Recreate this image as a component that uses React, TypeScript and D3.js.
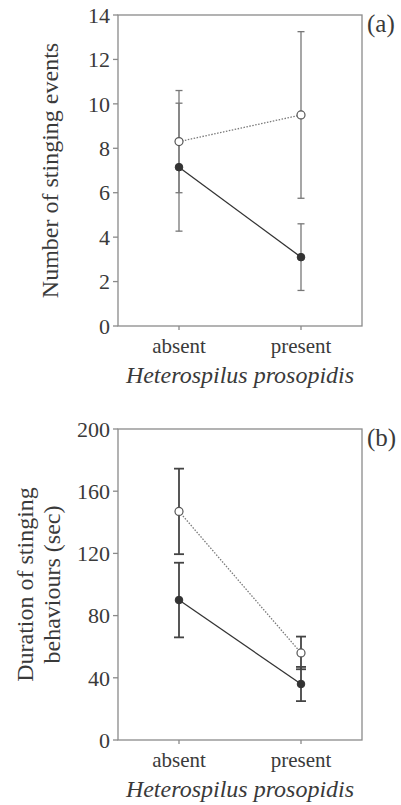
import { scaleLinear, scalePoint, line } from "d3";

// parasitoid treatment
const conditions = ["absent", "present"];

// (a) number of stinging events
const eventsOpen = [8.3, 9.5];
const eventsOpenErr = [2.3, 3.75];
const eventsFilled = [7.15, 3.1];
const eventsFilledErr = [2.88, 1.5];
const eventsTicks = [0, 2, 4, 6, 8, 10, 12, 14];

// (b) duration of stinging behaviours (sec)
const durationOpen = [147, 56];
const durationOpenErr = [27.5, 10.5];
const durationFilled = [90, 36];
const durationFilledErr = [24, 11];
const durationTicks = [0, 40, 80, 120, 160, 200];

const width = 401;
const height = 805;
const font = "'Liberation Serif', 'Times New Roman', serif";
const textColor = "#3a3a3a";

const left = 118;
const right = 362;

type PanelProps = {
  top: number;
  bottom: number;
  maxY: number;
  ticks: number[];
  open: number[];
  openErr: number[];
  filled: number[];
  filledErr: number[];
  tag: string;
  title: string[];
  barColor: string;
  barWidth: number;
  cap: number;
};

const Panel = (p: PanelProps) => {
  const x = scalePoint<string>().domain(conditions).range([left, right]).padding(0.5);
  const y = scaleLinear().domain([0, p.maxY]).range([p.bottom, p.top]);
  const path = line<number>()
    .x((_, i) => x(conditions[i]) ?? 0)
    .y((d) => y(d));

  const bars = (vals: number[], errs: number[]) =>
    vals.map((v, i) => {
      const cx = x(conditions[i]) ?? 0;
      const lo = y(v - errs[i]);
      const hi = y(v + errs[i]);
      return (
        <g key={i} stroke={p.barColor} strokeWidth={p.barWidth}>
          <line x1={cx} x2={cx} y1={lo} y2={hi} />
          <line x1={cx - p.cap} x2={cx + p.cap} y1={lo} y2={lo} />
          <line x1={cx - p.cap} x2={cx + p.cap} y1={hi} y2={hi} />
        </g>
      );
    });

  const midY = (p.top + p.bottom) / 2;

  return (
    <g fontFamily={font} fill={textColor}>
      {/* frame */}
      <rect
        x={left}
        y={p.top}
        width={right - left}
        height={p.bottom - p.top}
        fill="none"
        stroke="#8a8a8a"
        strokeWidth={1.3}
      />
      {p.ticks.map((t) => (
        <g key={t}>
          <line x1={left - 5} x2={left} y1={y(t)} y2={y(t)} stroke="#8a8a8a" strokeWidth={1.3} />
          <text x={left - 8} y={y(t)} dy="0.35em" textAnchor="end" fontSize={22}>
            {t}
          </text>
        </g>
      ))}
      {conditions.map((c) => (
        <g key={c}>
          <line x1={x(c)} x2={x(c)} y1={p.bottom} y2={p.bottom + 4} stroke="#8a8a8a" strokeWidth={1.3} />
          <text x={x(c)} y={p.bottom + 27} textAnchor="middle" fontSize={21}>
            {c}
          </text>
        </g>
      ))}
      <text x={(left + right) / 2} y={p.bottom + 57} textAnchor="middle" fontSize={24} fontStyle="italic">
        Heterospilus prosopidis
      </text>
      {p.title.length === 1 ? (
        <text transform={`translate(50, ${midY}) rotate(-90)`} textAnchor="middle" dy="0.35em" fontSize={24}>
          {p.title[0]}
        </text>
      ) : (
        p.title.map((t, i) => (
          <text
            key={t}
            transform={`translate(${25 + i * 27}, ${midY}) rotate(-90)`}
            textAnchor="middle"
            dy="0.35em"
            fontSize={24}
          >
            {t}
          </text>
        ))
      )}
      <text x={367} y={p.top + 17} fontSize={25}>
        {p.tag}
      </text>

      {bars(p.open, p.openErr)}
      {bars(p.filled, p.filledErr)}

      <path d={path(p.open) ?? ""} fill="none" stroke="#7a7a7a" strokeWidth={1.3} strokeDasharray="1.5,1.5" />
      <path d={path(p.filled) ?? ""} fill="none" stroke="#333" strokeWidth={1.3} />

      {p.open.map((v, i) => (
        <circle key={"o" + i} cx={x(conditions[i])} cy={y(v)} r={4} fill="#fff" stroke="#555" strokeWidth={1.2} />
      ))}
      {p.filled.map((v, i) => (
        <circle key={"f" + i} cx={x(conditions[i])} cy={y(v)} r={3.8} fill="#333" stroke="#333" strokeWidth={1} />
      ))}
    </g>
  );
};

export default function App() {
  return (
    <svg
      width={width}
      height={height}
      style={{ position: "absolute", left: 0, top: 0, background: "#fff" }}
    >
      <Panel
        top={15}
        bottom={326}
        maxY={14}
        ticks={eventsTicks}
        open={eventsOpen}
        openErr={eventsOpenErr}
        filled={eventsFilled}
        filledErr={eventsFilledErr}
        tag="(a)"
        title={["Number of stinging events"]}
        barColor="#777"
        barWidth={1.3}
        cap={3.5}
      />
      <Panel
        top={429}
        bottom={740}
        maxY={200}
        ticks={durationTicks}
        open={durationOpen}
        openErr={durationOpenErr}
        filled={durationFilled}
        filledErr={durationFilledErr}
        tag="(b)"
        title={["Duration of stinging", "behaviours (sec)"]}
        barColor="#444"
        barWidth={1.8}
        cap={5}
      />
    </svg>
  );
}
